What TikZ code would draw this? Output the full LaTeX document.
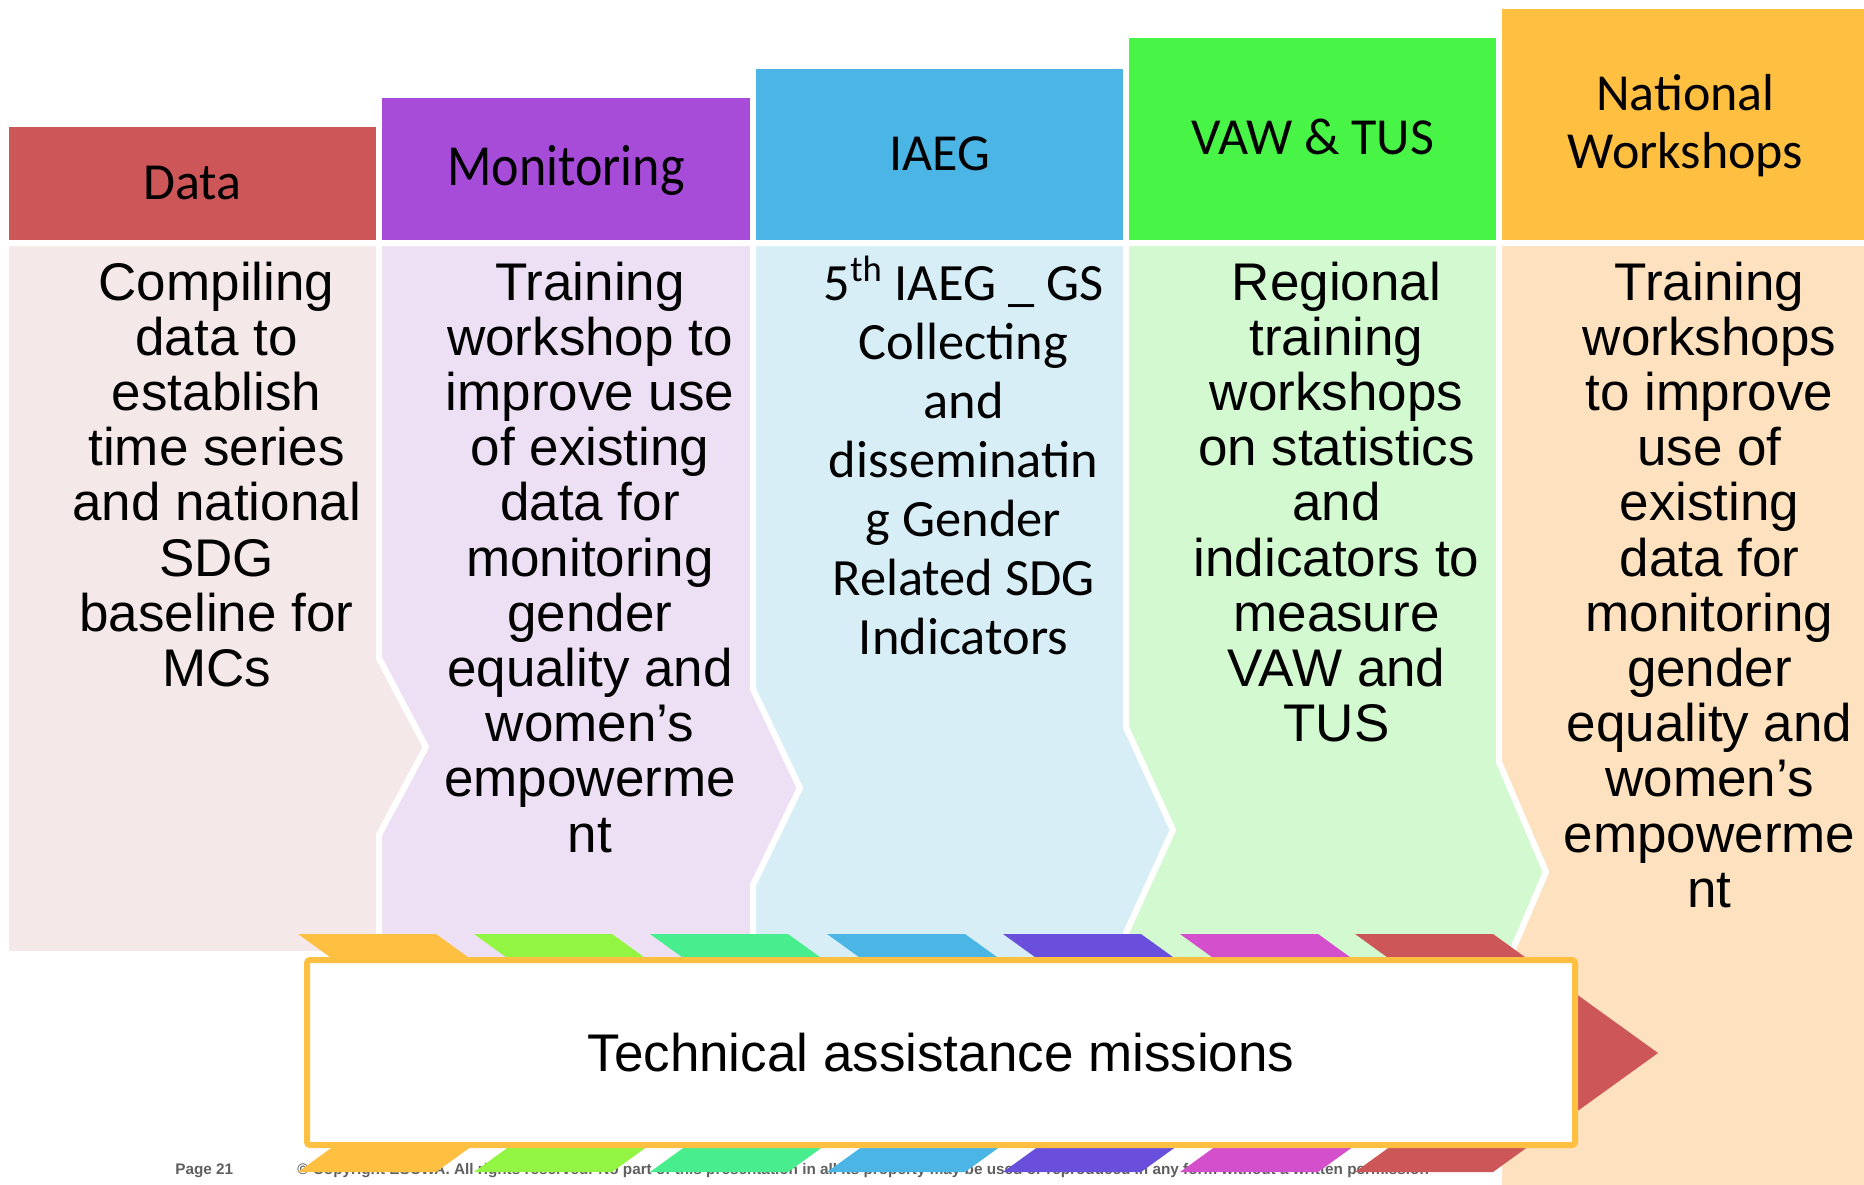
\documentclass[tikz,border=0pt]{standalone}
\usepackage{graphicx}
\usepackage{fontspec}
\setmainfont{Liberation Sans}
\newfontfamily\calibri{Carlito}
\usepackage{tikz}

\definecolor{datahead}{HTML}{CD5658}
\definecolor{databody}{HTML}{F5E8E9}
\definecolor{monhead}{HTML}{A64CD9}
\definecolor{monbody}{HTML}{EDE0F4}
\definecolor{iaeghead}{HTML}{4BB6E6}
\definecolor{iaegbody}{HTML}{D7EEF7}
\definecolor{vawhead}{HTML}{48F546}
\definecolor{vawbody}{HTML}{D2F9CF}
\definecolor{nathead}{HTML}{FFBF40}
\definecolor{natbody}{HTML}{FEE1BE}
\definecolor{tabgreen}{HTML}{92F542}
\definecolor{tabmint}{HTML}{48EE8D}
\definecolor{tabpurple}{HTML}{6A4FDC}
\definecolor{tabpink}{HTML}{D44FCC}
\definecolor{footgray}{HTML}{5F5F5F}

\begin{document}
\begin{tikzpicture}[x=0.5pt, y=-0.5pt,
  sep/.style={draw=white, line width=3pt, line join=miter},
  headtext/.style={anchor=base, inner sep=0pt, align=center,
    font=\calibri\fontsize{26}{29.25}\selectfont},
  bodytext/.style={anchor=base, inner sep=0pt, align=center,
    font=\fontsize{26.5}{27.6}\selectfont},
  foottext/.style={anchor=base west, inner sep=0pt, text=footgray,
    font=\bfseries\fontsize{7.65}{9}\selectfont}]
\clip (0,0) rectangle (1864,1184);

% Footer
\node[foottext] (page) at (175,1174) {Page 21};
\node[foottext] (copy) at (297,1174) {© Copyright ESCWA. All rights reserved. No part of this presentation in all its property may be used or reproduced in any form without a written permission};

% Bodies
\filldraw[sep, fill=databody] (6,243) -- (379,243) -- (379,658) -- (426,747) -- (379,835) -- (379,954) -- (6,954) -- cycle;
\filldraw[sep, fill=monbody] (379,243) -- (753,243) -- (753,689) -- (800,788) -- (753,885) -- (753,1000) -- (379,1000) -- (379,835) -- (426,747) -- (379,658) -- cycle;
\filldraw[sep, fill=iaegbody] (753,243) -- (1126,243) -- (1126,727) -- (1173,830) -- (1126,933) -- (1126,1000) -- (753,1000) -- (753,885) -- (800,788) -- (753,689) -- cycle;
\filldraw[sep, fill=vawbody] (1126,243) -- (1499,243) -- (1499,762) -- (1546,872) -- (1499,982) -- (1499,1000) -- (1126,1000) -- (1126,933) -- (1173,830) -- (1126,727) -- cycle;
\filldraw[sep, fill=natbody] (1499,243) -- (1880,243) -- (1880,1200) -- (1499,1200) -- (1499,982) -- (1546,872) -- (1499,762) -- cycle;

% Headers
\filldraw[sep, fill=datahead] (6,124) rectangle (379,243);
\filldraw[sep, fill=monhead] (379,95) rectangle (753,243);
\filldraw[sep, fill=iaeghead] (753,66) rectangle (1126,243);
\filldraw[sep, fill=vawhead] (1126,35) rectangle (1499,243);
\filldraw[sep, fill=nathead] (1499,6) rectangle (1880,243);

% (base = last line of each text)
\node[headtext] (hdata) at (192.5,199) {Data};
\node[headtext] (hmon) at (566,185) {\scalebox{1}[1.12]{Monitoring}};
\node[headtext] (hiaeg) at (939.5,170) {IAEG};
\node[headtext] (hvaw) at (1312.5,154) {VAW \& TUS};
\node[headtext] (hnat) at (1685.5,168.5) {National\\Workshops};

% Body texts
\node[bodytext] (tdata) at (216.5,686.4) {Compiling\\data to\\establish\\time series\\and national\\SDG\\baseline for\\MCs};
\node[bodytext] (tmon) at (590,852) {Training\\workshop to\\improve use\\of existing\\data for\\monitoring\\gender\\equality and\\women’s\\empowerme\\nt};
\node[bodytext, font=\calibri\fontsize{26.2}{29.5}\selectfont] (tiaeg) at (963.5,654) {5\textsuperscript{th} IAEG \_ GS\\Collecting\\and\\disseminatin\\g Gender\\Related SDG\\Indicators};
\node[bodytext] (tvaw) at (1336.5,741.6) {Regional\\training\\workshops\\on statistics\\and\\indicators to\\measure\\VAW and\\TUS};
\node[bodytext] (tnat) at (1709.5,907.2) {Training\\workshops\\to improve\\use of\\existing\\data for\\monitoring\\gender\\equality and\\women’s\\empowerme\\nt};

% Chevrons behind the mission box
\fill[nathead] (298,934) -- (436,934) -- (601,1053) -- (436,1172) -- (298,1172) -- (463,1053) -- cycle;
\fill[tabgreen] (474,934) -- (612,934) -- (777,1053) -- (612,1172) -- (474,1172) -- (639,1053) -- cycle;
\fill[tabmint] (650,934) -- (788,934) -- (953,1053) -- (788,1172) -- (650,1172) -- (815,1053) -- cycle;
\fill[iaeghead] (827,934) -- (965,934) -- (1130,1053) -- (965,1172) -- (827,1172) -- (992,1053) -- cycle;
\fill[tabpurple] (1003,934) -- (1141,934) -- (1306,1053) -- (1141,1172) -- (1003,1172) -- (1168,1053) -- cycle;
\fill[tabpink] (1180,934) -- (1318,934) -- (1483,1053) -- (1318,1172) -- (1180,1172) -- (1345,1053) -- cycle;
\fill[datahead] (1355,934) -- (1493,934) -- (1658,1053) -- (1493,1172) -- (1355,1172) -- (1520,1053) -- cycle;

% Mission box
\node[draw=nathead, line width=3pt, fill=white, rounded corners=1.5pt,
  minimum width=634pt, minimum height=92.5pt, inner sep=0pt,
  font=\fontsize{26.5}{30}\selectfont] (ta) at (941,1052.5) {Technical assistance missions};
\end{tikzpicture}
\end{document}
